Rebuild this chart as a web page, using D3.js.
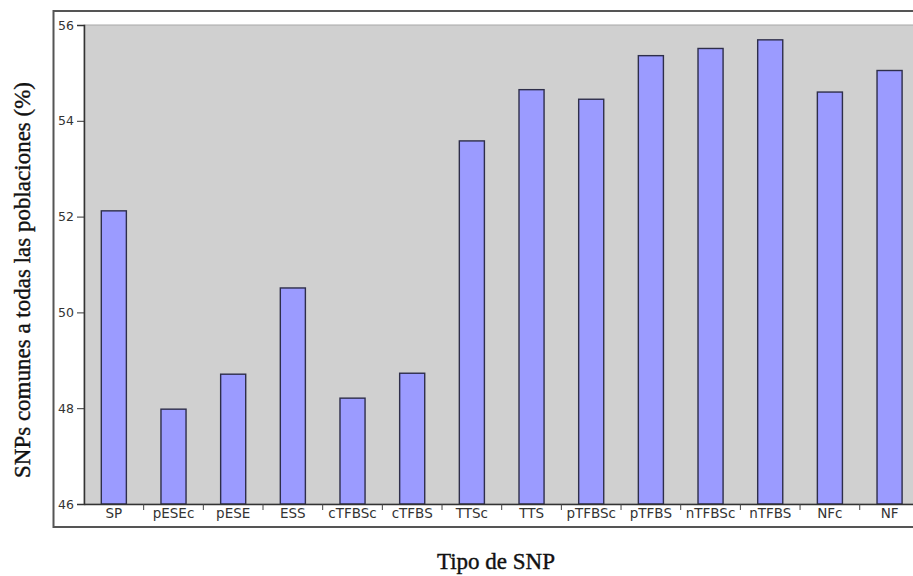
<!DOCTYPE html>
<html>
<head>
<meta charset="utf-8">
<script src="https://cdn.jsdelivr.net/npm/d3@7"></script>
<style>
  html, body { margin: 0; padding: 0; background: #fff; }
  svg { display: block; }
</style>
</head>
<body>
<svg id="chart" width="913" height="576"></svg>
<script>
const categories = ["SP", "pESEc", "pESE", "ESS", "cTFBSc", "cTFBS", "TTSc", "TTS", "pTFBSc", "pTFBS", "nTFBSc", "nTFBS", "NFc", "NF"];
const values = [52.12, 47.98, 48.71, 50.51, 48.21, 48.73, 53.58, 54.65, 54.45, 55.36, 55.51, 55.69, 54.60, 55.05];
const yTicks = [46, 48, 50, 52, 54, 56];
const yTitle = "SNPs comunes a todas las poblaciones (%)";
const xTitle = "Tipo de SNP";

const svg = d3.select("#chart");
const plot = { left: 84, top: 25, bottom: 504, right: 919.4 };

const x = d3.scaleBand().domain(categories).range([plot.left, plot.right]).paddingInner(0).paddingOuter(0);
const y = d3.scaleLinear().domain([46, 56]).range([plot.bottom, plot.top]);

// outer frame
svg.append("rect")
  .attr("x", 53.5).attr("y", 11)
  .attr("width", 900).attr("height", 516)
  .attr("fill", "#fff").attr("stroke", "#555").attr("stroke-width", 2);

// plot background
svg.append("rect")
  .attr("x", plot.left).attr("y", plot.top)
  .attr("width", plot.right - plot.left).attr("height", plot.bottom - plot.top)
  .attr("fill", "#d0d0d0").attr("stroke", "#a8a8a8").attr("stroke-width", 1);

// bars
const bw = x.bandwidth() * 0.42;
svg.append("g").selectAll("rect")
  .data(categories)
  .join("rect")
  .attr("x", (d) => x(d) + (x.bandwidth() - bw) / 2)
  .attr("y", (d, i) => y(values[i]))
  .attr("width", bw)
  .attr("height", (d, i) => y(46) - y(values[i]))
  .attr("fill", "#9b9bff")
  .attr("stroke", "#2e2e4a")
  .attr("stroke-width", 1.4);

// y axis
const yAxis = svg.append("g")
  .attr("transform", `translate(${plot.left},0)`)
  .call(d3.axisLeft(y).tickValues(yTicks).tickSize(7).tickPadding(3).tickFormat(d3.format("d")));
yAxis.select(".domain").attr("stroke", "#333").attr("stroke-width", 1.5);
yAxis.selectAll(".tick line").attr("stroke", "#333");
yAxis.selectAll(".tick text")
  .attr("font-family", "'DejaVu Sans', sans-serif")
  .attr("font-size", 12.5).attr("fill", "#333");

// x axis (labels)
const xAxis = svg.append("g")
  .attr("transform", `translate(0,${plot.bottom})`)
  .call(d3.axisBottom(x).tickSize(0).tickPadding(4));
xAxis.select(".domain").attr("stroke", "#333").attr("stroke-width", 1.5);
xAxis.selectAll(".tick text")
  .attr("font-family", "'DejaVu Sans', sans-serif")
  .attr("font-size", 13.5).attr("fill", "#333");

// x boundary ticks
svg.append("g").selectAll("line")
  .data(categories.slice(1))
  .join("line")
  .attr("x1", (d) => x(d)).attr("x2", (d) => x(d))
  .attr("y1", plot.bottom).attr("y2", plot.bottom + 6)
  .attr("stroke", "#444").attr("stroke-width", 1);

// titles
svg.append("text")
  .attr("transform", `translate(29.5,280) rotate(-90)`)
  .attr("text-anchor", "middle")
  .attr("font-family", "'Liberation Serif', 'Times New Roman', serif")
  .attr("font-size", 23).attr("fill", "#111")
  .attr("stroke", "#111").attr("stroke-width", 0.4)
  .text(yTitle);

svg.append("text")
  .attr("x", 496).attr("y", 569)
  .attr("text-anchor", "middle")
  .attr("font-family", "'Liberation Serif', 'Times New Roman', serif")
  .attr("font-size", 23).attr("fill", "#111")
  .attr("stroke", "#111").attr("stroke-width", 0.4)
  .text(xTitle);
</script>
</body>
</html>
